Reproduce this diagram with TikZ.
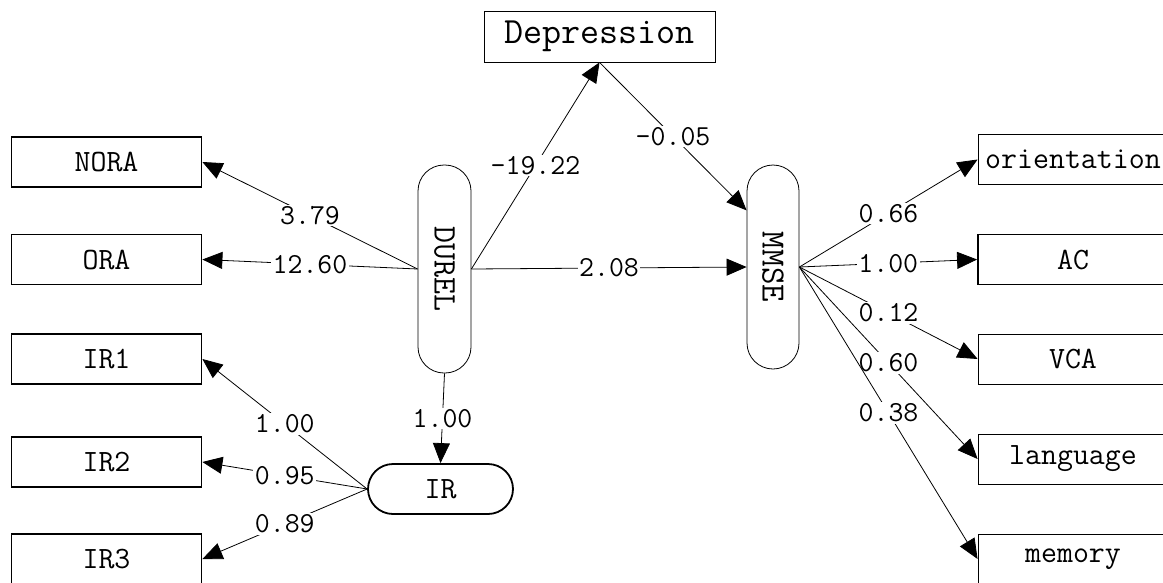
\documentclass[tikz,border=0pt]{standalone}
\usetikzlibrary{arrows.meta}
\renewcommand{\familydefault}{\ttdefault}

\begin{document}
\begin{tikzpicture}[x=1pt, y=-1pt, ->, >={Triangle[length=20pt,width=17pt]}, line width=0.8pt,
  obs/.style={draw, rectangle, minimum width=190pt, minimum height=50pt, inner sep=0pt, font=\fontsize{31}{33}\selectfont},
  thickbox/.style={line width=1.8pt},
  latent/.style={draw, rectangle, rounded corners=26pt, inner sep=0pt, font=\fontsize{33}{35}\selectfont},
  coef/.style={fill=white, inner sep=1.5pt, font=\fontsize{29}{31}\selectfont}]
\useasboundingbox (0,0) rectangle (1163,582);

\node[obs, thickbox] (nora) at (106.5,162) {NORA};
\node[obs, thickbox] (ora) at (106.5,259.5) {ORA};
\node[obs, thickbox] (ir1) at (106.5,359) {IR1};
\node[obs, thickbox] (ir2) at (106.5,462) {IR2};
\node[obs, thickbox] (ir3) at (106.5,559) {IR3};
\node[obs, minimum width=231pt, minimum height=51pt, font=\fontsize{37}{39}\selectfont] (dep) at (599.5,36.5) {Depression};
\node[latent, minimum width=53pt, minimum height=208pt] (durel) at (444.5,269) {\rotatebox{-90}{DUREL}};
\node[latent, minimum width=52pt, minimum height=204pt, font=\fontsize{34}{36}\selectfont] (mmse) at (773,267) {\rotatebox{-90}{MMSE}};
\node[latent, thickbox, minimum width=145pt, minimum height=50pt, rounded corners=25pt, font=\fontsize{31}{33}\selectfont] (ir) at (440.5,489) {IR};
\node[obs] (orient) at (1073,159.5) {orientation};
\node[obs, thickbox] (ac) at (1073,259.5) {AC};
\node[obs] (vca) at (1073,359) {VCA};
\node[obs] (lang) at (1073,459) {language};
\node[obs] (memory) at (1073,559) {memory};

\path (durel.west) edge node[coef] {3.79} (nora.east);
\path (durel.west) edge node[coef] {12.60} (ora.east);
\path (durel.east) edge node[coef] {-19.22} (dep.south);
\path (dep.south) edge node[coef] {-0.05} (mmse.115);
\path (durel.east) edge node[coef] {2.08} (mmse.west);
\path (durel.south) edge node[coef] {1.00} (ir.north);
\path (ir.west) edge node[coef] {1.00} (ir1.east);
\path (ir.west) edge node[coef] {0.95} (ir2.east);
\path (ir.west) edge node[coef] {0.89} (ir3.east);
\path (mmse.east) edge node[coef] {0.66} (orient.west);
\path (mmse.east) edge node[coef] {1.00} (ac.west);
\path (mmse.east) edge node[coef] {0.12} (vca.west);
\path (mmse.east) edge node[coef] {0.60} (lang.west);
\path (mmse.east) edge node[coef] {0.38} (memory.west);
\end{tikzpicture}
\end{document}
